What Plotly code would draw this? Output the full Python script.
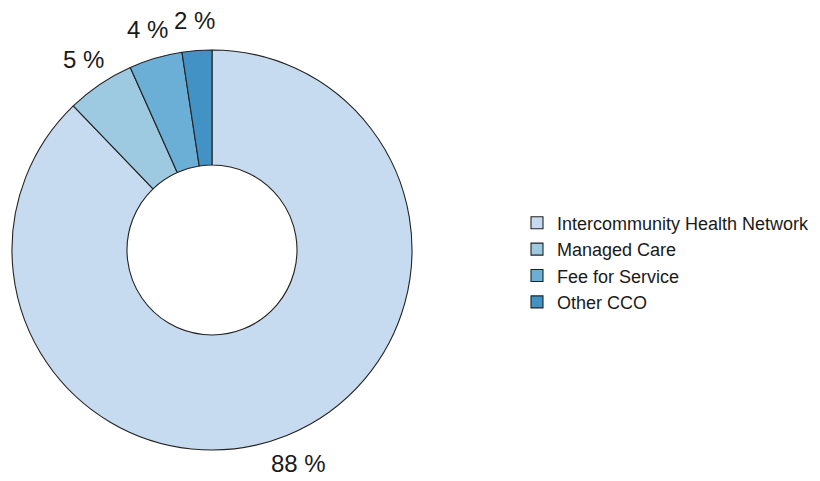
import math
import plotly.graph_objects as go

categories = ["Intercommunity Health Network", "Managed Care", "Fee for Service", "Other CCO"]
values = [87.8, 5.5, 4.3, 2.4]
labels_text = ["88 %", "5 %", "4 %", "2 %"]
colors = ["#c6dbef", "#9ecae1", "#6baed6", "#4292c6"]

W, H = 820, 481
# pie geometry (figure pixels)
cx, cy, r = 204, 242, 200
label_r = 1.15 * r

fig = go.Figure(go.Pie(
    labels=categories,
    values=values,
    textinfo="none",
    hole=0.425,
    sort=False,
    direction="clockwise",
    rotation=0,
    marker=dict(colors=colors, line=dict(color="#222222", width=1.1)),
    domain=dict(x=[(cx - r) / W, (cx + r) / W], y=[1 - (cy + r) / H, 1 - (cy - r) / H]),
    showlegend=True,
))

# percentage labels placed at the mid-angle of each slice
total = sum(values)
cum = 0.0
for v, t in zip(values, labels_text):
    mid = (cum + v / 2) / total * 2 * math.pi
    cum += v
    px = cx + math.sin(mid) * label_r
    py = cy - math.cos(mid) * label_r
    fig.add_annotation(
        x=px / W, y=1 - py / H, xref="paper", yref="paper",
        text=t, showarrow=False, xanchor="center", yanchor="middle",
        font=dict(family="Liberation Sans, Arial", size=24, color="#1a1a1a"),
    )

fig.update_layout(
    width=W, height=H,
    margin=dict(l=0, r=0, t=0, b=0),
    paper_bgcolor="white",
    plot_bgcolor="white",
    legend=dict(
        x=509 / W, y=1 - 254.5 / H, xanchor="left", yanchor="middle",
        font=dict(family="Liberation Sans, Arial", size=18, color="#1a1a1a"),
        traceorder="normal",
    ),
)

fig.write_html("out.html")
